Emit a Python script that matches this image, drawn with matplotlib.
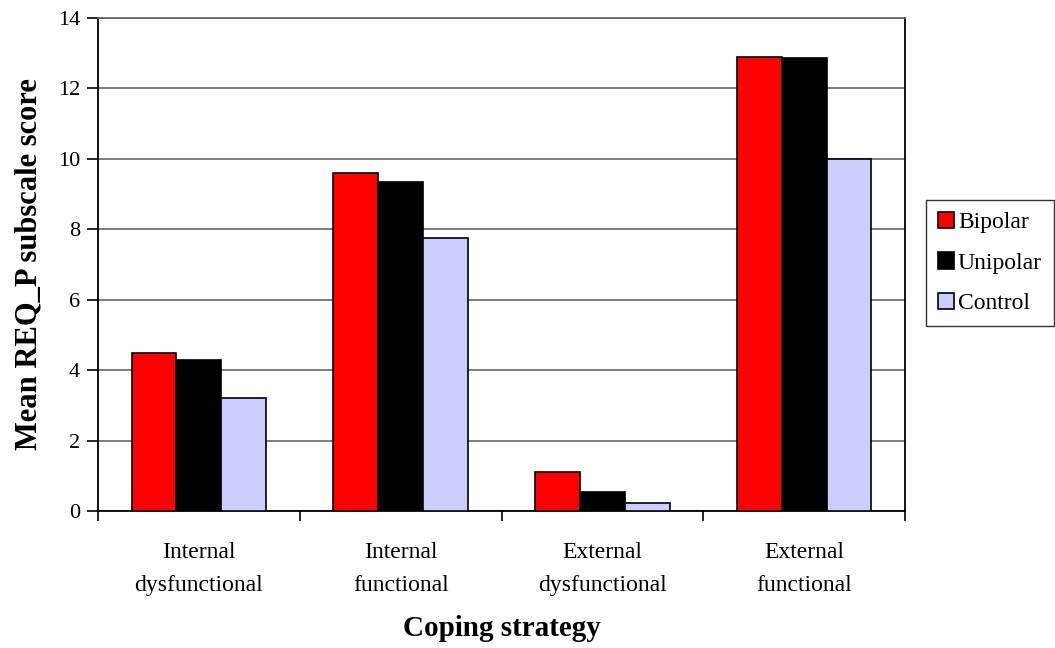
import matplotlib
matplotlib.use("Agg")
import matplotlib.pyplot as plt
import numpy as np

# data
categories = ["Internal\ndysfunctional", "Internal\nfunctional",
              "External\ndysfunctional", "External\nfunctional"]
bipolar = [4.5, 9.6, 1.1, 12.9]
unipolar = [4.3, 9.35, 0.53, 12.85]
control = [3.2, 7.75, 0.24, 10.0]
series_names = ["Bipolar", "Unipolar", "Control"]
series_colors = ["#ff0000", "#000000", "#ccccff"]

plt.rcParams['font.family'] = ['Liberation Serif', 'DejaVu Serif']

fig = plt.figure(figsize=(10.55, 6.48), dpi=100)
ax = fig.add_axes([98 / 1055, 1 - 511 / 648, 807 / 1055, 493 / 648])

x = np.arange(len(categories))
width = 0.222
for i, (vals, name, col) in enumerate(zip([bipolar, unipolar, control], series_names, series_colors)):
    ax.bar(x + (i - 1) * width, vals, width, color=col, edgecolor="black",
           linewidth=1.2, label=name, zorder=3)

ax.set_xlim(-0.5, len(categories) - 0.5)
ax.set_ylim(0, 14)
ax.set_yticks(np.arange(0, 15, 2))
ax.yaxis.grid(True, color="#666666", linewidth=1.2, zorder=0)
ax.set_axisbelow(True)

# category labels centred, ticks on group boundaries
ax.set_xticks(x)
ax.set_xticklabels(categories, fontsize=17, linespacing=1.75)
ax.tick_params(axis="x", length=0, pad=22)
ax.set_xticks(np.arange(-0.5, len(categories), 1), minor=True)
ax.tick_params(axis="x", which="minor", length=7, width=1.2, direction="out")
ax.tick_params(axis="y", labelsize=16, length=8, width=1.2, direction="out", pad=5)

for side in ["left", "bottom", "right", "top"]:
    ax.spines[side].set_linewidth(1.3)
ax.spines["top"].set_color("#666666")
ax.spines["right"].set_color("black")

ax.set_ylabel("Mean REQ_P subscale score", fontsize=22, fontweight="bold", labelpad=10)
# x title placed by hand below the two-line category labels
fig.text(0.5 * (98 + 905) / 1055, 1 - 636 / 648, "Coping strategy", fontsize=21,
         fontweight="bold", ha="center", va="baseline")

leg = ax.legend(loc="upper left", bbox_to_anchor=((926 - 98) / 807, (511 - 200) / 493),
                fontsize=17, frameon=True, fancybox=False, edgecolor="black",
                handlelength=0.7, handleheight=0.7, handletextpad=0.15, borderpad=0.5,
                borderaxespad=0, labelspacing=0.8)
leg.get_frame().set_linewidth(1.0)

fig.savefig("out.png", dpi=100)
